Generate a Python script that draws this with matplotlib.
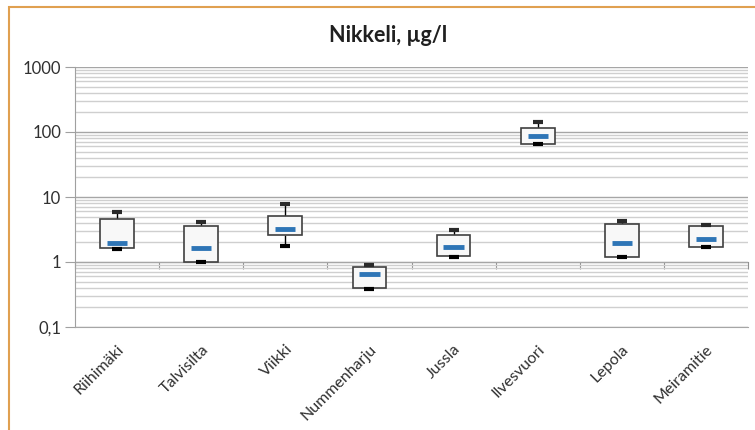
import matplotlib.pyplot as plt
from matplotlib.patches import Rectangle
from matplotlib.ticker import FixedLocator, NullFormatter

# näytepisteet
paikat = ['Riihimäki', 'Talvisilta', 'Viikki', 'Nummenharju', 'Jussla',
          'Ilvesvuori', 'Lepola', 'Meiramitie']
minimi = [1.57, 1.0, 1.76, 0.39, 1.19, 65.0, 1.2, 1.68]
q1 = [1.64, 1.0, 2.57, 0.394, 1.22, 65.3, 1.21, 1.68]
mediaani = [1.98, 1.66, 3.22, 0.65, 1.72, 85.8, 1.94, 2.28]
q3 = [4.6, 3.62, 5.15, 0.83, 2.58, 114.0, 3.88, 3.62]
maksimi = [5.9, 4.08, 7.71, 0.89, 3.07, 142.6, 4.32, 3.7]
y_ticks = [0.1, 1, 10, 100, 1000]
y_labels = ['0,1', '1', '10', '100', '1000']

plt.rcParams['font.family'] = ['Lato', 'DejaVu Sans']

fig = plt.figure(figsize=(7.55, 4.30), dpi=100)
ax = fig.add_axes([75 / 755, 103 / 430, 673 / 755, 260 / 430])

x = list(range(len(paikat)))

# viikset
ax.vlines(x, minimi, q1, color='black', lw=1, zorder=2)
ax.vlines(x, q3, maksimi, color='black', lw=1, zorder=2)
# laatikot
korkeus = [b - a for a, b in zip(q1, q3)]
ax.bar(x, korkeus, bottom=q1, width=0.4, color='#f8f8f8',
       edgecolor='#404040', linewidth=1.2, zorder=3)
# päätyviivat
ax.hlines(minimi, [i - 0.06 for i in x], [i + 0.06 for i in x],
          color='black', lw=3, zorder=4)
ax.hlines(maksimi, [i - 0.06 for i in x], [i + 0.06 for i in x],
          color='#2a2a2a', lw=3, zorder=4)
# mediaanit
ax.hlines(mediaani, [i - 0.12 for i in x], [i + 0.12 for i in x],
          color='#2e75b6', lw=3.5, zorder=5)

ax.set_yscale('log')
ax.set_ylim(0.1, 1000)
ax.set_xlim(-0.5, len(paikat) - 0.5)
ax.yaxis.set_major_locator(FixedLocator(y_ticks))
ax.set_yticklabels(y_labels)
ax.yaxis.set_minor_formatter(NullFormatter())
ax.tick_params(axis='y', which='major', length=7, color='#a0a0a0',
               labelsize=12, labelcolor='#303030', pad=3)
ax.tick_params(axis='y', which='minor', length=0)
ax.grid(True, which='major', axis='y', color='#a6a6a6', lw=1)
ax.grid(True, which='minor', axis='y', color='#cfcfcf', lw=1)
ax.set_axisbelow(True)

ax.set_xticks(x)
ax.set_xticklabels(paikat, rotation=45, ha='right', rotation_mode='anchor',
                   fontsize=11.5, color='#303030')
ax.tick_params(axis='x', length=0, pad=11)

for s in ['top', 'right']:
    ax.spines[s].set_visible(False)
ax.spines['left'].set_color('#a0a0a0')
ax.spines['bottom'].set_color('#a6a6a6')

# vaaka-akseli kulkee arvon 1 kohdalta
akseli = ax.secondary_xaxis(0.25)
akseli.set_xticks([i - 0.5 for i in range(len(paikat) + 1)])
akseli.tick_params(length=5, color='#909090', labelbottom=False, direction='out')
akseli.spines['bottom'].set_color('#909090')

fig.text(388 / 755, 1 - 35 / 430, 'Nikkeli, µg/l', fontsize=15.5,
         fontweight='bold', color='#202020', ha='center', va='center')

fig.patches.append(Rectangle((9 / 755, -0.05), 1.0, 1 - 7 / 430 + 0.05,
                             transform=fig.transFigure, fill=False,
                             edgecolor='#e0a050', lw=1.5))

fig.savefig('out.png', dpi=100)
